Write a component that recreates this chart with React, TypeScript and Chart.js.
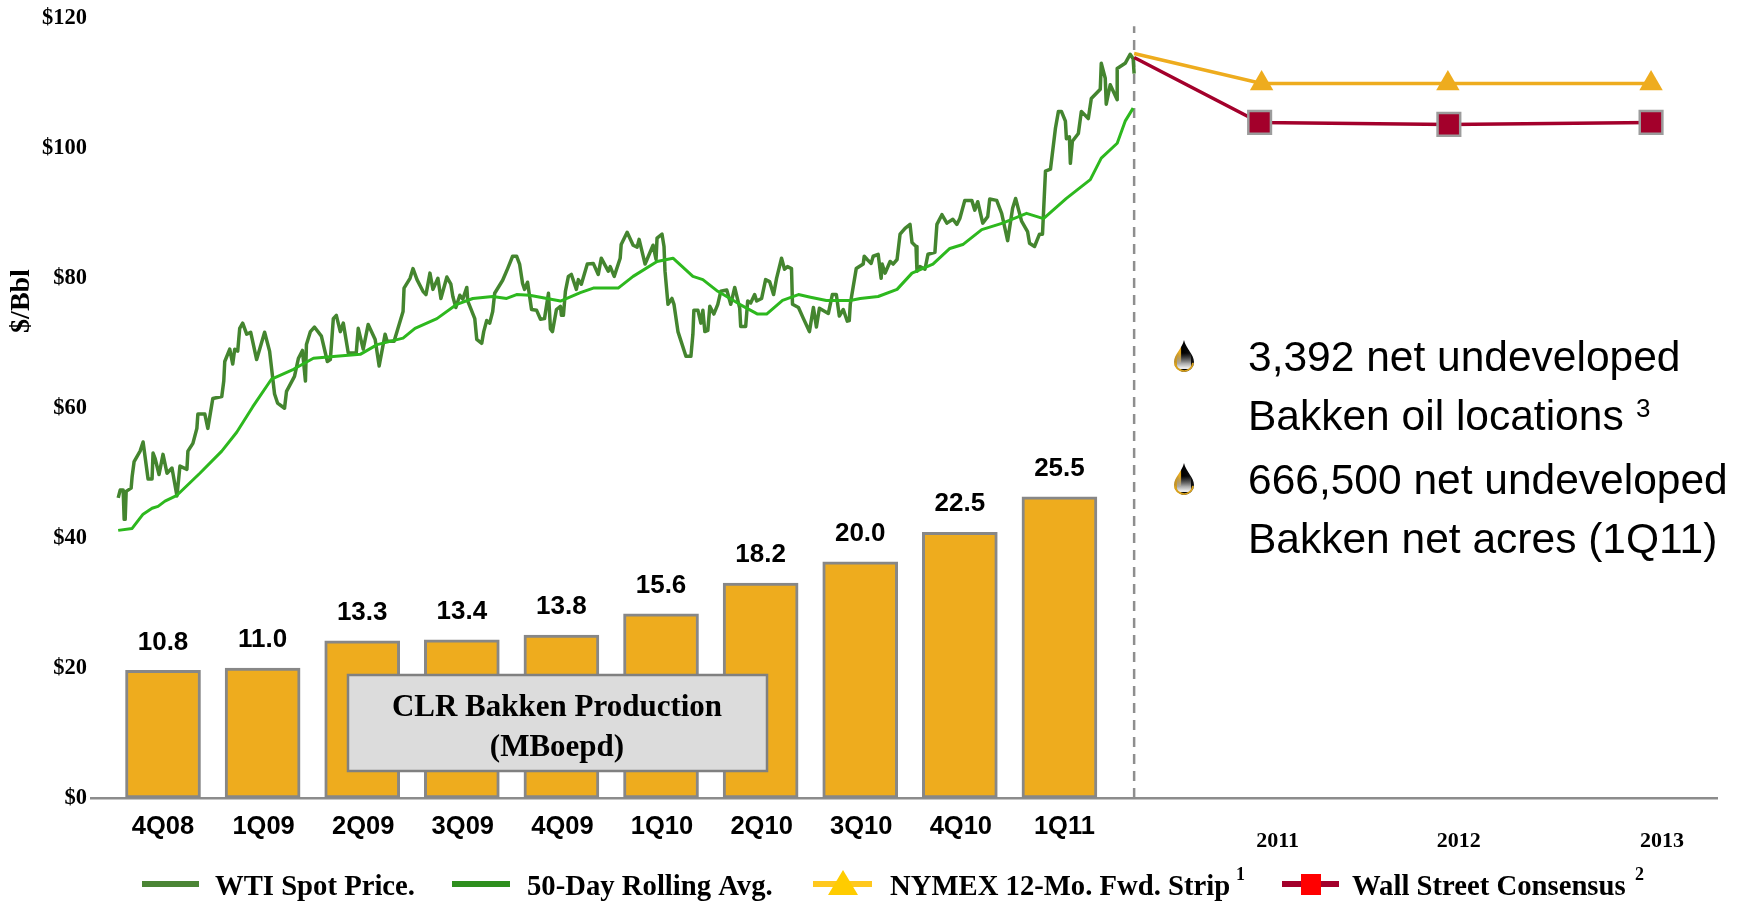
import React, { useEffect, useRef } from "react";
import { Chart, registerables } from "chart.js";

Chart.register(...registerables);

// x unit: hundredths of a quarter, 0 = 4Q08
const quarterLabels = ["4Q08", "1Q09", "2Q09", "3Q09", "4Q09", "1Q10", "2Q10", "3Q10", "4Q10", "1Q11"];
const quarterPositions = [0, 100, 200, 300, 400, 500, 600, 700, 800, 900];
const quarterLabelTicks = [0, 101, 201, 301, 401, 501, 601, 701, 801, 905];
const production = [10.8, 11.0, 13.3, 13.4, 13.8, 15.6, 18.2, 20.0, 22.5, 25.5];

const yearLabels = ["2011", "2012", "2013"];
const yearLabelTicks = [1119, 1301, 1505];

const todayX = 975;
const nymexX = [975, 1103, 1290, 1494];
const nymex = [114.6, 110, 110, 110];
const consensusX = [975, 1101, 1291, 1494];
const consensus = [114, 104, 103.7, 104];

const wtiSpot = [
  [-45,46.2],[-43,47.4],[-40,47.4],[-39,42.9],[-38,42.9],[-37,47.2],[-32,47.7],[-31,49.5],[-29,51.8],[-23,53.4],
  [-20,54.8],[-15,49.1],[-11,49.1],[-10,53.1],[-8,52.3],[-4,49.8],[0,52.9],[4,50],[9,50.8],[14,46.5],
  [17,51.1],[24,50.6],[25,53.4],[30,54.6],[34,56.9],[35,59.1],[42,59.1],[45,56.9],[50,61.5],[59,61.8],
  [61,64.2],[62,67.2],[67,69.1],[70,66.8],[72,69.1],[75,68.8],[77,72.3],[80,73.1],[84,71.4],[88,71.7],
  [94,67.5],[102,71.7],[107,68.8],[112,62.2],[115,60.8],[122,60],[124,62.6],[132,64.9],[136,67.7],[140,68.9],
  [143,64.2],[144,69.8],[148,71.8],[152,72.5],[159,71.1],[165,67.2],[168,67.5],[171,73.8],[174,74.3],[178,71.8],
  [181,73.1],[186,68.5],[194,68.5],[196,72.3],[201,69.1],[206,72.9],[213,70.6],[217,66.5],[223,71.4],[225,70.3],
  [232,70.3],[241,74.9],[242,78.5],[248,80],[251,81.5],[255,79.8],[261,78],[264,77.5],[268,80.8],[271,78.3],
  [276,80],[279,76.9],[285,80.2],[289,79.1],[291,77.2],[294,75.5],[298,77.4],[301,76.8],[305,78.6],[306,76.5],
  [313,73.8],[315,70.6],[320,70],[322,71.8],[325,73.5],[328,73.1],[331,74.9],[333,77.7],[341,79.7],[346,81.5],
  [351,83.4],[355,83.4],[358,82.2],[361,79.2],[363,78.3],[366,79.4],[370,75.2],[375,75.1],[379,73.7],[383,73.8],
  [387,77.7],[389,72.2],[391,71.8],[395,75.2],[399,75.7],[400,74.3],[402,74.3],[404,78],[407,80.3],[410,80.6],
  [415,78.3],[417,79.8],[420,79.1],[426,82.2],[432,82.3],[437,80.6],[440,83.1],[447,81.1],[449,81.8],[453,80.3],
  [459,83.1],[460,85.2],[466,87.1],[472,85.1],[476,84.8],[478,86],[484,82.2],[492,85.1],[495,82.9],[496,86.2],
  [501,86.8],[503,84.9],[504,81.1],[507,76],[511,76.9],[513,76],[517,71.8],[525,68],[530,68],[532,71.4],
  [533,75.1],[537,75.1],[540,73.1],[542,75.1],[544,71.8],[547,72],[549,75.7],[553,74.5],[557,76],[560,78],
  [566,78.2],[570,76],[574,78.6],[579,75.4],[580,72.6],[585,72.6],[587,76.5],[590,76.2],[594,77.5],[596,76.5],
  [601,76.9],[605,79.8],[609,79.5],[613,77.5],[616,80],[621,83.1],[624,81.4],[627,81.8],[631,81.5],[632,76],
  [638,75.5],[643,73.8],[649,71.8],[653,75.5],[656,72.5],[659,75.4],[668,74.6],[672,77.5],[676,77.5],[679,74.2],
  [683,75.2],[687,73.4],[689,73.5],[690,76],[696,81.5],[703,82.2],[704,83.4],[707,82.9],[711,82.3],[713,83.4],
  [718,83.7],[721,80],[722,82.2],[725,80.8],[730,82.6],[733,82.2],[737,82.9],[740,86.8],[745,87.7],[750,88.3],
  [752,85.5],[756,84.9],[757,81.1],[760,81.8],[765,81.4],[768,83.7],[775,84],[777,88.3],[782,89.8],[787,88.5],
  [793,89.1],[797,88.3],[800,89.2],[805,92],[812,92],[815,90.5],[818,91.8],[823,88.5],[828,89.5],[830,92.2],
  [837,92],[842,90],[848,85.8],[853,90.8],[856,92.3],[862,88.8],[868,87.2],[870,85.4],[875,84.9],[880,86.8],
  [883,86.8],[886,96.5],[891,96.8],[896,103.1],[899,105.7],[902,105.7],[906,104.2],[907,101.5],[910,101.8],[911,97.7],
  [913,101.1],[919,102.3],[922,105.7],[929,104.6],[932,107.7],[941,109.1],[942,113.1],[946,110.8],[947,106.8],[951,109.8],
  [958,107.5],[958,112.3],[966,113.1],[971,114.5],[974,113.8],[975,111.5],
];

const rollingAvg = [
  [-45,41.2],[-31,41.5],[-20,43.7],[-11,44.6],[-5,44.9],[2,45.7],[14,46.6],[37,50],[59,53.4],[74,56.3],
  [90,60.2],[109,64.5],[131,66],[151,67.7],[174,68],[198,68.3],[215,69.8],[241,70.8],[253,72.3],[275,73.8],
  [295,76],[311,76.9],[331,77.2],[345,76.9],[355,77.5],[368,77.4],[399,76.5],[419,77.8],[432,78.5],[457,78.5],
  [472,80.3],[496,82.6],[512,83.1],[532,80.3],[542,79.8],[557,78],[579,76],[597,74.5],[606,74.5],[622,76.6],
  [638,77.5],[650,77.1],[666,76.6],[690,76.6],[700,76.9],[718,77.2],[737,78.3],[752,80.8],[773,82.2],[790,84.6],
  [803,85.2],[822,87.5],[843,88.5],[867,90],[884,89.2],[907,92.3],[931,95.2],[942,98.5],[958,100.8],[966,104.2],[974,106.2],
];

const allTicks = [...quarterLabelTicks, ...yearLabelTicks];

const SERIF = '"Liberation Serif"';
const SANS = '"Liberation Sans"';
const GOLD = "#EEAC1E";
const CRIMSON = "#A3002B";

function drawDrop(ctx: CanvasRenderingContext2D, cx: number, top: number) {
  const r = 10;
  const h = 32;
  ctx.save();
  ctx.beginPath();
  ctx.moveTo(cx, top);
  ctx.bezierCurveTo(cx + 2, top + 9, cx + r, top + 14, cx + r, top + h - r);
  ctx.arc(cx, top + h - r, r, 0, Math.PI);
  ctx.bezierCurveTo(cx - r, top + 14, cx - 2, top + 9, cx, top);
  ctx.closePath();
  ctx.clip();
  const g = ctx.createLinearGradient(cx - r, 0, cx + r, 0);
  g.addColorStop(0, "#B58A2A");
  g.addColorStop(0.32, "#F2B21E");
  g.addColorStop(0.38, "#000");
  g.addColorStop(1, "#111");
  ctx.fillStyle = g;
  ctx.fillRect(cx - r, top, r * 2, h);
  const v = ctx.createLinearGradient(0, top + 13, 0, top + h);
  v.addColorStop(0, "rgba(120,120,120,0)");
  v.addColorStop(0.55, "rgba(170,170,170,1)");
  v.addColorStop(0.8, "rgba(240,240,240,1)");
  v.addColorStop(1, "rgba(170,170,170,1)");
  ctx.fillStyle = v;
  ctx.fillRect(cx - r + 3, top + 13, r * 2 - 6, h - 16);
  ctx.strokeStyle = "#D9A21E";
  ctx.lineWidth = 2.5;
  ctx.beginPath();
  ctx.arc(cx, top + h - r, r - 0.6, 0.1, Math.PI - 0.1);
  ctx.stroke();
  ctx.restore();
}

function text(
  ctx: CanvasRenderingContext2D,
  s: string,
  x: number,
  y: number,
  font: string,
  align: CanvasTextAlign = "left",
  color = "#000"
) {
  ctx.font = font;
  ctx.textAlign = align;
  ctx.textBaseline = "middle";
  ctx.fillStyle = color;
  ctx.fillText(s, x, y);
}

const overlay = {
  id: "overlay",
  afterDraw(chart: any) {
    const ctx: CanvasRenderingContext2D = chart.ctx;
    ctx.save();

    // bar value labels
    const barMeta = chart.getDatasetMeta(0);
    barMeta.data.forEach((el: any, i: number) => {
      text(ctx, production[i].toFixed(1), el.x, el.y - 28, `bold 26px ${SANS}`, "center");
    });

    // production box
    ctx.fillStyle = "#DCDCDC";
    ctx.strokeStyle = "#808080";
    ctx.lineWidth = 2.5;
    ctx.fillRect(348, 675, 419, 96);
    ctx.strokeRect(348, 675, 419, 96);
    text(ctx, "CLR Bakken Production", 557, 708, `bold 31px ${SERIF}`, "center");
    text(ctx, "(MBoepd)", 557, 748, `bold 31px ${SERIF}`, "center");

    // axis title
    ctx.save();
    ctx.translate(22, 301);
    ctx.rotate(-Math.PI / 2);
    text(ctx, "$/Bbl", 0, 0, `bold 28px ${SERIF}`, "center");
    ctx.restore();

    // right-hand callouts
    const bodyFont = `42.5px ${SANS}`;
    drawDrop(ctx, 1184, 340);
    drawDrop(ctx, 1184, 463);
    text(ctx, "3,392 net undeveloped", 1248, 359, bodyFont);
    text(ctx, "Bakken oil locations", 1248, 418, bodyFont);
    text(ctx, "3", 1636, 410, `26px ${SANS}`);
    text(ctx, "666,500 net undeveloped", 1248, 482, bodyFont);
    text(ctx, "Bakken net acres (1Q11)", 1248, 541, bodyFont);

    // legend
    const legendFont = `bold 28.7px ${SERIF}`;
    const lineY = 884;
    const textY = 888;
    ctx.fillStyle = "#4B8535";
    ctx.fillRect(142, lineY - 3, 57, 6);
    text(ctx, "WTI Spot Price.", 215, textY, legendFont);
    ctx.fillStyle = "#2E8F1E";
    ctx.fillRect(452, lineY - 3, 58, 6);
    text(ctx, "50-Day Rolling Avg.", 527, textY, legendFont);
    ctx.fillStyle = "#FFC81E";
    ctx.fillRect(813, lineY - 3, 59, 6);
    ctx.fillStyle = "#FFCC00";
    ctx.beginPath();
    ctx.moveTo(843, 870);
    ctx.lineTo(858, 895);
    ctx.lineTo(828, 895);
    ctx.closePath();
    ctx.fill();
    text(ctx, "NYMEX 12-Mo. Fwd. Strip", 890, textY, legendFont);
    text(ctx, "1", 1236, 875, `bold 18px ${SERIF}`);
    ctx.fillStyle = CRIMSON;
    ctx.fillRect(1282, lineY - 3, 57, 6);
    ctx.fillStyle = "#FF0000";
    ctx.fillRect(1301, 874, 20, 21);
    text(ctx, "Wall Street Consensus", 1352, textY, legendFont);
    text(ctx, "2", 1635, 875, `bold 18px ${SERIF}`);

    ctx.restore();
  },
};

export default function App() {
  const ref = useRef<HTMLCanvasElement | null>(null);

  useEffect(() => {
    document.body.style.margin = "0";
    const chart = new Chart(ref.current as HTMLCanvasElement, {
      type: "line",
      data: {
        datasets: [
          {
            type: "bar",
            label: "CLR Bakken Production (MBoepd)",
            data: production.map((y, i) => ({ x: quarterPositions[i], y })),
            xAxisID: "x",
            yAxisID: "y2",
            backgroundColor: GOLD,
            borderColor: "#878787",
            borderWidth: 3,
            borderSkipped: false,
            barThickness: 75,
            order: 5,
          },
          {
            label: "Today",
            data: [{ x: todayX, y: 0 }, { x: todayX, y: 118.8 }],
            borderColor: "#8E8E8E",
            borderWidth: 2.5,
            borderDash: [10, 7],
            pointRadius: 0,
            order: 4,
          },
          {
            label: "WTI Spot Price.",
            data: wtiSpot.map(([x, y]) => ({ x, y })),
            borderColor: "#44852F",
            borderWidth: 3.5,
            borderJoinStyle: "round",
            pointRadius: 0,
            tension: 0,
            order: 3,
          },
          {
            label: "50-Day Rolling Avg.",
            data: rollingAvg.map(([x, y]) => ({ x, y })),
            borderColor: "#2DB81E",
            borderWidth: 3,
            borderJoinStyle: "round",
            pointRadius: 0,
            tension: 0,
            order: 2,
          },
          {
            label: "NYMEX 12-Mo. Fwd. Strip",
            data: nymex.map((y, i) => ({ x: nymexX[i], y })),
            borderColor: GOLD,
            borderWidth: 3.5,
            pointStyle: "triangle",
            pointRadius: [0, 13.5, 13.5, 13.5],
            pointBackgroundColor: GOLD,
            pointBorderWidth: 0,
            order: 1,
          },
          {
            label: "Wall Street Consensus",
            data: consensus.map((y, i) => ({ x: consensusX[i], y })),
            borderColor: CRIMSON,
            borderWidth: 3.5,
            pointStyle: "rect",
            pointRadius: [0, 16, 16, 16],
            pointBackgroundColor: CRIMSON,
            pointBorderColor: "#9C9C9C",
            pointBorderWidth: 2.5,
            order: 0,
          },
        ],
      },
      options: {
        responsive: false,
        animation: false,
        events: [],
        layout: { padding: { top: 17, right: 25, bottom: 0, left: 0 } },
        plugins: { legend: { display: false }, tooltip: { enabled: false } },
        scales: {
          x: {
            type: "linear",
            position: "bottom",
            min: -72.3,
            max: 1560.2,
            offset: false,
            grid: { display: false, drawTicks: false },
            border: { display: true, color: "#8C8C8C", width: 2.5 },
            afterBuildTicks: (s: any) => {
              s.ticks = allTicks.map((value) => ({ value }));
            },
            afterFit: (s: any) => {
              s.height = 104;
            },
            ticks: {
              autoSkip: false,
              maxRotation: 0,
              padding: 14,
              color: "#000",
              font: (c: any) =>
                c.index < quarterLabelTicks.length
                  ? { family: SANS, size: 25.5, weight: "bold", lineHeight: 1.2 }
                  : { family: SERIF, size: 22, weight: "bold", lineHeight: 0.9 },
              callback: (v: any) => {
                const q = quarterLabelTicks.indexOf(v);
                return q >= 0 ? quarterLabels[q] : [" ", yearLabels[yearLabelTicks.indexOf(v)]];
              },
            },
          },
          y: {
            min: 0,
            max: 120,
            grid: { display: false, drawTicks: false },
            border: { display: false },
            afterFit: (s: any) => {
              s.width = 91;
            },
            ticks: {
              stepSize: 20,
              padding: 4,
              color: "#000",
              font: { family: SERIF, size: 22.5, weight: "bold" },
              callback: (v: any) => `$${v}`,
            },
          },
          y2: { display: false, min: 0, max: 66 },
        },
      },
      plugins: [overlay],
    } as any);
    return () => chart.destroy();
  }, []);

  return (
    <div style={{ width: 1742, height: 902, background: "#fff" }}>
      <canvas ref={ref} width={1742} height={902} style={{ display: "block" }} />
    </div>
  );
}
